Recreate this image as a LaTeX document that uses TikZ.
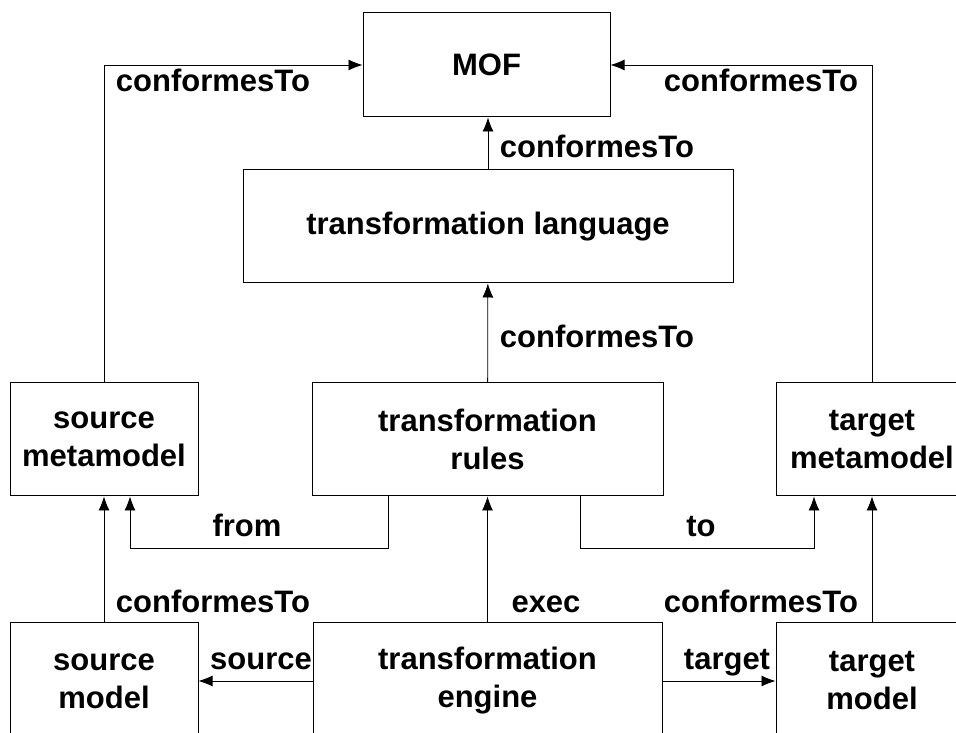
\documentclass[tikz,border=0pt]{standalone}
\usepackage{fontspec}
\setmainfont{Liberation Sans}
\usetikzlibrary{arrows.meta}

\begin{document}
\begin{tikzpicture}[x=1pt,y=1pt]
    \tikzstyle{every node}=[inner sep=0pt,font=\bfseries\fontsize{31}{38}\selectfont]
    \tikzstyle{box}=[draw,rectangle,line width=1pt,align=center]
    \tikzstyle{lbl}=[anchor=base]
    \tikzstyle{conn}=[line width=0.8pt,-{Latex[length=14pt,width=11pt]}]
    \useasboundingbox (0,0) rectangle (956,733);
    \draw (486.5,668) node[box,minimum width=247,minimum height=104] (mof) {MOF};
    \draw (488,506.5) node[box,minimum width=490,minimum height=113] (lang) {transformation language};
    \draw (104,293.5) node[box,minimum width=188,minimum height=113] (srcmeta) {source\\metamodel};
    \draw (487.5,293.5) node[box,minimum width=351,minimum height=113] (rules) {transformation\\rules};
    \draw (872,293.5) node[box,minimum width=192,minimum height=113] (tgtmeta) {target\\metamodel};
    \draw (104,52) node[box,minimum width=188,minimum height=116] (srcmodel) {source\\model};
    \draw (487.5,52) node[box,minimum width=349,minimum height=116] (engine) {transformation\\engine};
    \draw (872,52) node[box,minimum width=192,minimum height=116] (tgtmodel) {target\\model};
    % conformance
    \draw[conn] (srcmeta) |- (mof);
    \draw[conn] (tgtmeta) |- (mof);
    \draw[conn] (lang.north -| 488,0) -- (mof.south -| 488,0);
    \draw[conn] (rules) -- (lang);
    \draw[conn] (srcmodel) -- (srcmeta);
    \draw[conn] (tgtmodel) -- (tgtmeta);
    % engine
    \draw[conn] (engine) -- (rules);
    \draw[conn] (engine) -- (srcmodel);
    \draw[conn] (engine) -- (tgtmodel);
    % rules
    \draw[conn] ([xshift=77pt]rules.south west) -- ++(0,-52) -| ([xshift=26pt]srcmeta.south);
    \draw[conn] ([xshift=-83pt]rules.south east) -- ++(0,-52) -| ([xshift=-58pt]tgtmeta.south);
    \draw (213,641) node[lbl] (l1) {conformesTo};
    \draw (761,641) node[lbl] (l2) {conformesTo};
    \draw (597,575) node[lbl] (l3) {conformesTo};
    \draw (597,385) node[lbl] (l4) {conformesTo};
    \draw (247,196) node[lbl] (l5) {from};
    \draw (701,196) node[lbl] (l6) {to};
    \draw (213,120) node[lbl] (l7) {conformesTo};
    \draw (546,120) node[lbl] (l8) {exec};
    \draw (761,120) node[lbl] (l9) {conformesTo};
    \draw (261,63) node[lbl] (l10) {source};
    \draw (727,63) node[lbl] (l11) {target};
\end{tikzpicture}
\end{document}
